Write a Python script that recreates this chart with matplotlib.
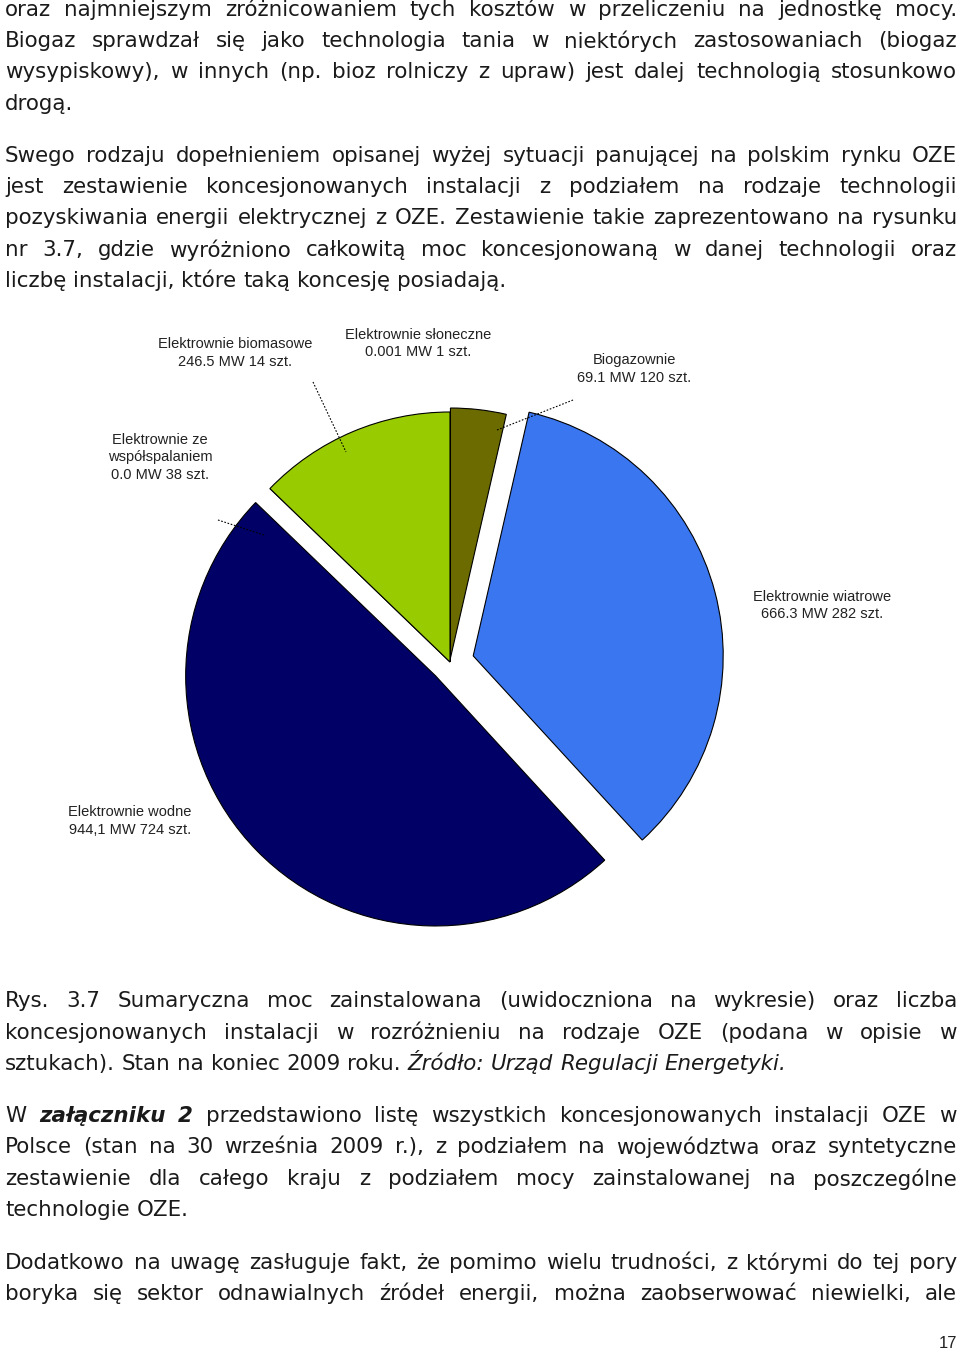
import matplotlib
matplotlib.use("Agg")
import matplotlib.pyplot as plt

W, H = 960, 1352

# pie data (clockwise from top)
tech = ["Elektrownie słoneczne", "Biogazownie", "Elektrownie wiatrowe",
        "Elektrownie wodne", "Elektrownie ze współspalaniem", "Elektrownie biomasowe"]
power_mw = [0.001, 69.1, 666.3, 944.1, 0.0, 246.5]
colors = ["#808000", "#6b6b00", "#3a76f0", "#000066", "#99cc00", "#99cc00"]
explode_px = [0.0, 4.0, 24.0, 20.0, 0.0, 0.0]  # pie offsets are in data units

label_lines = [
    (["Elektrownie biomasowe", "246.5 MW 14 szt."], 235, 344),
    (["Elektrownie słoneczne", "0.001 MW 1 szt."], 418, 335),
    (["Biogazownie", "69.1 MW 120 szt."], 634, 360),
    (["Elektrownie ze", "współspalaniem", "0.0 MW 38 szt."], 160, 440),
    (["Elektrownie wiatrowe", "666.3 MW 282 szt."], 822, 597),
    (["Elektrownie wodne", "944,1 MW 724 szt."], 130, 812),
]
leaders = [((313, 382), (346, 452)), ((573, 400), (497, 430)), ((218, 520), (264, 535))]

# body text: (y, text, justified)
para_top = [
    (10, "oraz najmniejszym zróżnicowaniem tych kosztów w przeliczeniu na jednostkę mocy.", True),
    (41, "Biogaz sprawdzał się jako technologia tania w niektórych zastosowaniach (biogaz", True),
    (72, "wysypiskowy), w innych (np. bioz rolniczy z upraw) jest dalej technologią stosunkowo", True),
    (104, "drogą.", False),
    (156, "Swego rodzaju dopełnieniem opisanej wyżej sytuacji panującej na polskim rynku OZE", True),
    (187, "jest zestawienie koncesjonowanych instalacji z podziałem na rodzaje technologii", True),
    (218, "pozyskiwania energii elektrycznej z OZE. Zestawienie takie zaprezentowano na rysunku", True),
    (250, "nr 3.7, gdzie wyróżniono całkowitą moc koncesjonowaną w danej technologii oraz", True),
    (281, "liczbę instalacji, które taką koncesję posiadają.", False),
    (1001, "Rys. 3.7 Sumaryczna moc zainstalowana (uwidoczniona na wykresie) oraz liczba", True),
    (1033, "koncesjonowanych instalacji w rozróżnieniu na rodzaje OZE (podana w opisie w", True),
    (1064, "sztukach). Stan na koniec 2009 roku. *Źródło: *Urząd *Regulacji *Energetyki.", False),
    (1116, "W #załączniku #2 przedstawiono listę wszystkich koncesjonowanych instalacji OZE w", True),
    (1147, "Polsce (stan na 30 września 2009 r.), z podziałem na województwa oraz syntetyczne", True),
    (1179, "zestawienie dla całego kraju z podziałem mocy zainstalowanej na poszczególne", True),
    (1210, "technologie OZE.", False),
    (1263, "Dodatkowo na uwagę zasługuje fakt, że pomimo wielu trudności, z którymi do tej pory", True),
    (1294, "boryka się sektor odnawialnych źródeł energii, można zaobserwować niewielki, ale", True),
]

BODY = dict(family="DejaVu Sans", size=15.4, color="#1a1a1a")
LEFT, RIGHT = 5, 957


def Y(y):
    return H - y


fig = plt.figure(figsize=(W / 100, H / 100), dpi=100)
ax = fig.add_axes([0, 0, 1, 1])
cx, cy, R = 450, Y(662), 250
wedges, _ = ax.pie(power_mw, colors=colors, startangle=90, counterclock=False,
                   center=(cx, cy), radius=R, explode=explode_px,
                   wedgeprops=dict(edgecolor="black", linewidth=0.8))
ax.set_xlim(0, W)
ax.set_ylim(0, H)
ax.set_aspect("equal")
ax.axis("off")

for lines, x, y in label_lines:
    for i, s in enumerate(lines):
        ax.text(x, Y(y + i * 17.5), s, ha="center", va="center",
                family="Liberation Sans", size=10.5, color="#222222")
for (x0, y0), (x1, y1) in leaders:
    ax.plot([x0, x1], [Y(y0), Y(y1)], color="black", lw=0.8, ls=(0, (1.5, 1.5)))

fig.canvas.draw()
renderer = fig.canvas.get_renderer()


def word_artist(w, x, y):
    style = dict(BODY)
    if w.startswith("*"):
        w = w[1:]
        style["style"] = "italic"
    elif w.startswith("#"):
        w = w[1:]
        style["style"] = "italic"
        style["weight"] = "bold"
    return ax.text(x, Y(y), w, ha="left", va="center", **style)


space = ax.text(0, 0, "a a", **BODY)
sw = space.get_window_extent(renderer).width
aw = ax.text(0, 0, "aa", **BODY).get_window_extent(renderer).width
sw = sw - aw
for t in ax.texts[-2:]:
    t.remove()

for y, line, just in para_top:
    words = line.split(" ")
    arts = [word_artist(w, 0, y) for w in words]
    widths = [a.get_window_extent(renderer).width for a in arts]
    gap = sw
    if just and len(words) > 1:
        gap = (RIGHT - LEFT - sum(widths)) / (len(words) - 1)
    x = LEFT
    for a, wd in zip(arts, widths):
        a.set_x(x)
        x += wd + gap

ax.text(957, Y(1343), "17", ha="right", va="center", family="Liberation Sans",
        size=12, color="#222222")

fig.savefig("out.png", dpi=100, facecolor="white")
